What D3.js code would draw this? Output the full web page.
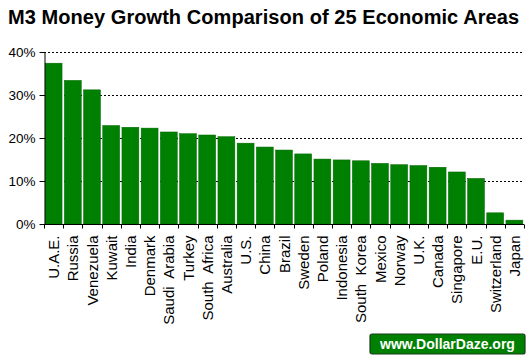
<!DOCTYPE html>
<html>
<head>
<meta charset="utf-8">
<script src="https://cdn.jsdelivr.net/npm/d3@7"></script>
<style>
  body { margin: 0; background: #fff; }
  svg { display: block; font-family: "Liberation Sans", Arial, sans-serif; }
  .grid line { stroke: #000; stroke-dasharray: 2,2; }
  .axis path, .axis line { stroke: #000; }
</style>
</head>
<body>
<div id="chart"></div>
<script>
// data
const areas = ["U.A.E.", "Russia", "Venezuela", "Kuwait", "India", "Denmark", "Saudi  Arabia",
  "Turkey", "South  Africa", "Australia", "U.S.", "China", "Brazil", "Sweden", "Poland",
  "Indonesia", "South  Korea", "Mexico", "Norway", "U.K.", "Canada", "Singapore", "E.U.",
  "Switzerland", "Japan"];
const growth = [37.4, 33.4, 31.2, 22.9, 22.5, 22.3, 21.4, 21.0, 20.7, 20.3, 18.8, 17.9, 17.2,
  16.3, 15.1, 14.9, 14.7, 14.1, 13.8, 13.6, 13.2, 12.1, 10.6, 2.6, 0.9];
const yTicks = [0, 10, 20, 30, 40];

const width = 530, height = 362;
const margin = { top: 52, right: 6, bottom: 138, left: 44 };

const svg = d3.select("#chart").append("svg")
  .attr("width", width).attr("height", height);

// title
svg.append("text")
  .attr("x", 8).attr("y", 24)
  .attr("font-size", 20).attr("font-weight", "bold")
  .attr("textLength", 511).attr("lengthAdjust", "spacing")
  .attr("fill", "#000")
  .text("M3 Money Growth Comparison of 25 Economic Areas");

// scales
const x = d3.scaleBand().domain(areas)
  .range([margin.left, width - margin.right])
  .paddingInner(0.12).paddingOuter(0.06);
const y = d3.scaleLinear().domain([0, 40]).range([height - margin.bottom, margin.top]);

// gridlines
svg.append("g").attr("class", "grid")
  .selectAll("line").data(yTicks.filter(d => d > 0)).join("line")
  .attr("x1", margin.left).attr("x2", width - margin.right)
  .attr("y1", d => y(d) + 0.5).attr("y2", d => y(d) + 0.5);

// bars
svg.append("g").selectAll("rect").data(areas).join("rect")
  .attr("x", d => x(d))
  .attr("y", (d, i) => y(growth[i]))
  .attr("width", x.bandwidth())
  .attr("height", (d, i) => y(0) - y(growth[i]))
  .attr("fill", "#008000")
  .attr("stroke", "#006400")
  .attr("stroke-width", 0.5);

// y axis
const yAxis = d3.axisLeft(y).tickValues(yTicks)
  .tickFormat(d => d + "%").tickSize(5).tickPadding(4).tickSizeOuter(0);
const gy = svg.append("g").attr("class", "axis")
  .attr("transform", `translate(${margin.left + 0.5},0)`)
  .call(yAxis);
gy.selectAll("text").attr("font-size", 13.5).attr("fill", "#000").attr("font-family", null);

// x axis: ticks between categories
const gx = svg.append("g").attr("class", "axis")
  .attr("transform", `translate(0,${y(0) + 0.5})`);
gx.append("line").attr("x1", margin.left).attr("x2", width - margin.right).attr("stroke", "#000");
const bounds = d3.range(areas.length + 1).map(i => margin.left + (width - margin.right - margin.left) * i / areas.length);
gx.selectAll(".tk").data(bounds).join("line")
  .attr("x1", d => Math.round(d) + 0.5).attr("x2", d => Math.round(d) + 0.5)
  .attr("y1", 0).attr("y2", 4).attr("stroke", "#000");
gx.selectAll(".lbl").data(areas).join("text")
  .attr("transform", d => `translate(${x(d) + x.bandwidth() / 2 + 5.5},11) rotate(-90)`)
  .attr("text-anchor", "end")
  .attr("font-size", 15)
  .attr("fill", "#000")
  .style("white-space", "pre")
  .text(d => d);

// watermark
const wm = svg.append("g").attr("transform", "translate(370,334)");
wm.append("rect").attr("width", 155).attr("height", 20).attr("rx", 2)
  .attr("fill", "#008000").attr("stroke", "#1a3a1a").attr("stroke-width", 1.2);
wm.append("text").attr("x", 77.5).attr("y", 15)
  .attr("text-anchor", "middle").attr("font-size", 14).attr("font-weight", "bold")
  .attr("fill", "#fff").text("www.DollarDaze.org");
</script>
</body>
</html>
